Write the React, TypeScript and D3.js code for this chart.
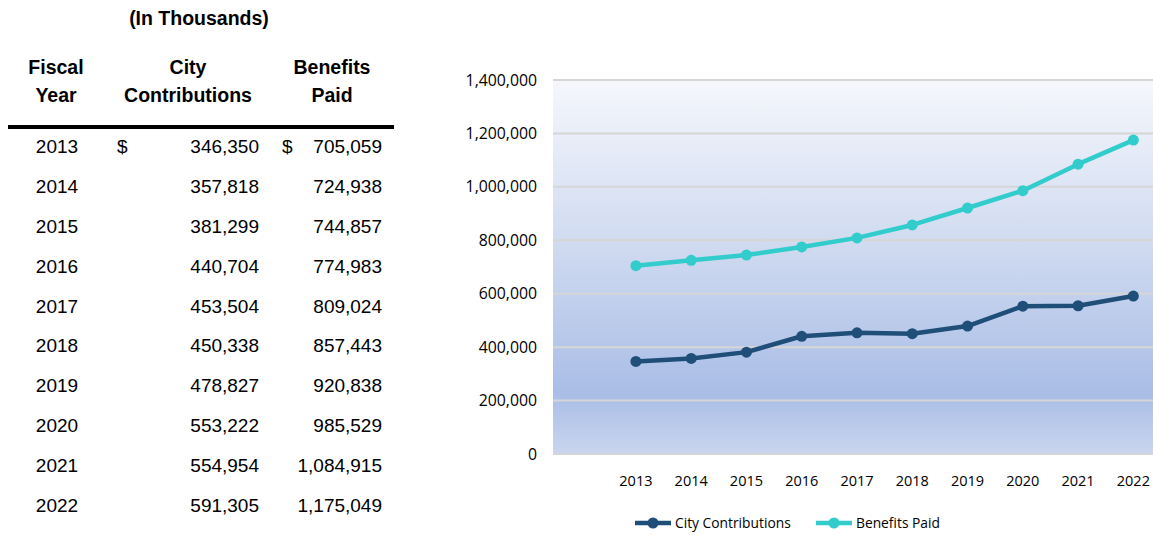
import React, { useRef, useEffect } from "react";
import * as d3 from "d3";

const years = ["2013", "2014", "2015", "2016", "2017", "2018", "2019", "2020", "2021", "2022"];
const cityContributions = [346350, 357818, 381299, 440704, 453504, 450338, 478827, 553222, 554954, 591305];
const benefitsPaid = [705059, 724938, 744857, 774983, 809024, 857443, 920838, 985529, 1084915, 1175049];
const yTicks = [0, 200000, 400000, 600000, 800000, 1000000, 1200000, 1400000];
const seriesNames = ["City Contributions", "Benefits Paid"];

const App = () => {
    const ref = useRef<SVGSVGElement>(null);

    useEffect(() => {
        const svgWidth = 1153;
        const svgHeight = 535;
        const darkBlue = "#1f4e79";
        const teal = "#33cccc";
        const tableFont = "'Liberation Sans', Arial, sans-serif";
        const chartFont = "'Open Sans', sans-serif";

        const svg = d3.select(ref.current)
            .attr("width", svgWidth)
            .attr("height", svgHeight);
        svg.selectAll("*").remove();

        // ---------- Table ----------
        const table = svg.append("g").style("font-family", tableFont).attr("fill", "#000");

        table.append("text")
            .attr("x", 199).attr("y", 25)
            .attr("text-anchor", "middle")
            .style("font-weight", "bold").style("font-size", "19.5px")
            .text("(In Thousands)");

        const headers = [
            { x: 56, lines: ["Fiscal", "Year"] },
            { x: 188, lines: ["City", "Contributions"] },
            { x: 332, lines: ["Benefits", "Paid"] },
        ];
        headers.forEach(h => {
            h.lines.forEach((l, i) => {
                table.append("text")
                    .attr("x", h.x).attr("y", 74 + i * 28)
                    .attr("text-anchor", "middle")
                    .style("font-weight", "bold").style("font-size", "19.5px")
                    .text(l);
            });
        });

        table.append("line")
            .attr("x1", 8).attr("x2", 394)
            .attr("y1", 127).attr("y2", 127)
            .attr("stroke", "#000").attr("stroke-width", 4);

        const rowY = d3.scaleLinear().domain([0, years.length - 1]).range([153, 512]);
        const fmt = d3.format(",");

        years.forEach((yr, i) => {
            const y = rowY(i);
            const row = table.append("g").style("font-size", "19px");
            row.append("text").attr("x", 57).attr("y", y).attr("text-anchor", "middle").text(yr);
            row.append("text").attr("x", 259).attr("y", y).attr("text-anchor", "end").text(fmt(cityContributions[i]));
            row.append("text").attr("x", 382).attr("y", y).attr("text-anchor", "end").text(fmt(benefitsPaid[i]));
            if (i === 0) {
                row.append("text").attr("x", 117).attr("y", y).text("$");
                row.append("text").attr("x", 282).attr("y", y).text("$");
            }
        });

        // ---------- Chart ----------
        const plot = { left: 553, right: 1161, top: 80, bottom: 454 };

        const xScale = d3.scaleBand()
            .domain(["", ...years]) // blank leading category like the original
            .range([plot.left, plot.right]);

        const yScale = d3.scaleLinear()
            .domain([0, 1400000])
            .range([plot.bottom, plot.top]);

        const defs = svg.append("defs");
        const grad = defs.append("linearGradient")
            .attr("id", "plotBg")
            .attr("x1", 0).attr("y1", 0).attr("x2", 0).attr("y2", 1);
        [
            [0, "#f5f7fc"],
            [0.45, "#cfdaf0"],
            [0.84, "#a9bde6"],
            [1, "#cad6ef"],
        ].forEach(([o, c]) => grad.append("stop").attr("offset", o as number).attr("stop-color", c as string));

        svg.append("rect")
            .attr("x", plot.left).attr("y", plot.top)
            .attr("width", plot.right - plot.left)
            .attr("height", plot.bottom - plot.top)
            .attr("fill", "url(#plotBg)");

        // gridlines
        svg.append("g")
            .selectAll("line")
            .data(yTicks)
            .enter()
            .append("line")
            .attr("x1", plot.left).attr("x2", plot.right)
            .attr("y1", d => yScale(d)).attr("y2", d => yScale(d))
            .attr("stroke", "#d6d6d6")
            .attr("stroke-width", 2);

        // y labels
        svg.append("g")
            .selectAll("text")
            .data(yTicks)
            .enter()
            .append("text")
            .attr("x", 537)
            .attr("y", d => yScale(d) + 5.5)
            .attr("text-anchor", "end")
            .style("font-family", chartFont)
            .style("font-size", "15.8px")
            .attr("fill", "#000")
            .text(d => fmt(d));

        // x labels
        svg.append("g")
            .selectAll("text")
            .data(years)
            .enter()
            .append("text")
            .attr("x", d => (xScale(d) as number) + xScale.bandwidth() / 2)
            .attr("y", 486)
            .attr("text-anchor", "middle")
            .style("font-family", chartFont)
            .style("font-size", "14.5px")
            .attr("fill", "#000")
            .text(d => d);

        const line = d3.line<number>()
            .x((d, i) => (xScale(years[i]) as number) + xScale.bandwidth() / 2)
            .y(d => yScale(d));

        const series = [
            { values: cityContributions, color: darkBlue },
            { values: benefitsPaid, color: teal },
        ];

        series.forEach(s => {
            svg.append("path")
                .datum(s.values)
                .attr("d", line)
                .attr("fill", "none")
                .attr("stroke", s.color)
                .attr("stroke-width", 4.5)
                .attr("stroke-linejoin", "round");

            svg.append("g")
                .selectAll("circle")
                .data(s.values)
                .enter()
                .append("circle")
                .attr("cx", (d, i) => (xScale(years[i]) as number) + xScale.bandwidth() / 2)
                .attr("cy", d => yScale(d))
                .attr("r", 5.5)
                .attr("fill", s.color);
        });

        // legend
        const legendItems = [
            { name: seriesNames[0], color: darkBlue, x: 635 },
            { name: seriesNames[1], color: teal, x: 816 },
        ];
        const legendY = 523;
        legendItems.forEach(item => {
            const g = svg.append("g");
            g.append("line")
                .attr("x1", item.x).attr("x2", item.x + 36)
                .attr("y1", legendY).attr("y2", legendY)
                .attr("stroke", item.color).attr("stroke-width", 4.5);
            g.append("circle")
                .attr("cx", item.x + 18).attr("cy", legendY)
                .attr("r", 5.5).attr("fill", item.color);
            g.append("text")
                .attr("x", item.x + 40).attr("y", legendY + 5)
                .style("font-family", chartFont)
                .style("font-size", "13.8px")
                .attr("fill", "#000")
                .text(item.name);
        });
    }, []);

    return (
        <div style={{ position: "absolute", left: 0, top: 0 }}>
            <svg ref={ref}></svg>
        </div>
    );
};

export default App;
